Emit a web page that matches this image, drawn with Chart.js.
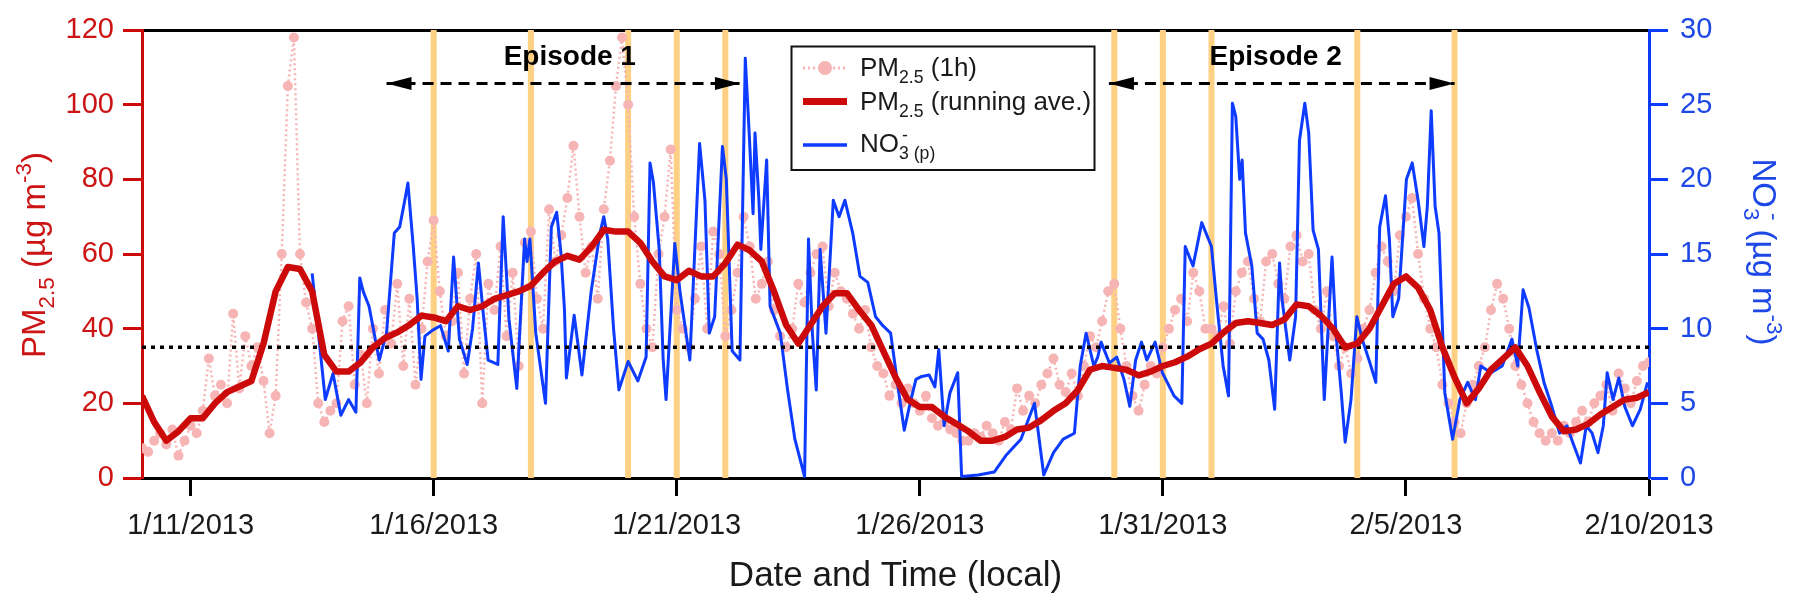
<!DOCTYPE html>
<html><head><meta charset="utf-8">
<script src="https://cdn.jsdelivr.net/npm/chart.js@4.4.1/dist/chart.umd.min.js"></script>
<style>html,body{margin:0;padding:0;background:#fff;}#wrap{width:1800px;height:597px;}</style>
</head><body><div id="wrap"><canvas id="c" width="1800" height="597"></canvas></div>
<script>
const FONT = '"Liberation Sans", Arial, Helvetica, sans-serif';

// ---- data (x = days since 1/10/2013 00:00) ----
const tickDays = [1, 6, 11, 16, 21, 26, 31];
const tickLabels = ['1/11/2013','1/16/2013','1/21/2013','1/26/2013','1/31/2013','2/5/2013','2/10/2013'];
const yellowDays = [6, 8, 10, 11, 12, 20, 21, 22, 25, 27];
const pmStandard = 35;

// PM2.5 (1h) read every 3 h
const pm1hStep = 0.125;
const pm1h = [
  8,7,10,12,9,13,6,10,
  14,12,18,32,22,25,20,44,
  24,38,30,35,26,12,22,60,
  105,118,60,47,40,20,15,18,
  20,42,46,25,33,20,40,28,
  45,36,52,30,48,25,40,58,
  69,50,38,42,55,28,48,60,
  20,52,45,62,38,55,30,63,
  66,48,40,72,58,65,75,89,
  70,55,62,48,72,85,105,118,
  100,70,52,40,35,60,70,88,
  45,40,35,48,62,40,66,60,
  38,45,55,70,62,48,52,58,
  45,38,35,40,52,47,55,60,
  62,46,55,50,48,44,40,45,
  35,30,28,22,25,20,24,20,
  18,22,16,14,15,13,12,10,
  10,12,11,14,12,10,15,13,
  24,18,22,20,25,28,32,25,
  23,28,22,30,38,35,42,50,
  52,40,30,22,18,25,30,28,
  35,40,45,48,42,55,50,40,
  40,38,46,36,50,55,58,48,
  42,58,60,52,48,62,65,58,
  60,45,40,50,38,30,35,28,
  32,40,45,55,62,58,50,65,
  70,75,60,48,40,35,25,20,
  15,12,20,25,30,35,45,52,
  48,40,30,25,20,15,12,10,
  12,10,14,12,15,18,15,20,
  22,25,18,28,24,20,26,30,
  31
];

// PM2.5 running average read every 6 h
const pmAvgStep = 0.25;
const pmAvg = [
  22,15,10,12.5, 16,16,20,23, 24.5,26,36,50, 56.5,56,50,33,
  28.5,28.5,31,35, 37.5,39,41,43.5, 43,42,46,45, 46,48,49,50,
  51.5,55,58,59.5, 58.5,62,66.5,66, 66,63,58,54, 53,55.5,54,54,
  57.5,62.5,61,58, 50,41,36,41, 46,49.5,49.5,45, 41,34,27,21,
  19,19,16.5,14.5, 12.5,10,10,11, 13,13.5,15.5,18, 20,23.5,29,30,
  29.5,29,27.5,28.5, 30,31,32.5,34.5, 36,39,41.5,42, 41.5,41,42.5,46.5,
  46,43.5,40,35, 36,40,46,52, 54,51,45,35, 27,20,24,29,
  32,35,30,23, 16.5,12.5,13,14.5, 17,19,21,21.5, 23
];

// NO3- (p) (right axis)
const no3Days = [
  3.50,3.62,3.77,3.93,4.09,4.25,4.40,4.48,4.55,4.67,4.88,5.03,5.19,5.30,5.40,5.47,5.58,5.66,5.74,5.82,
  5.98,6.14,6.30,6.41,6.53,6.69,6.80,6.92,7.02,7.12,7.32,7.43,7.55,7.71,7.87,7.92,7.98,8.10,8.30,8.42,
  8.53,8.62,8.69,8.73,8.89,9.05,9.24,9.42,9.50,9.58,9.70,9.81,10.00,10.20,10.37,10.45,10.52,10.64,10.72,10.78,
  10.96,11.07,11.27,11.47,11.58,11.67,11.78,11.94,12.02,12.14,12.30,12.41,12.49,12.57,12.61,12.69,12.73,12.85,12.92,13.13,
  13.28,13.43,13.63,13.71,13.79,13.87,13.95,14.07,14.22,14.34,14.46,14.62,14.77,14.93,15.09,15.24,15.40,15.56,15.68,15.80,
  15.92,16.04,16.19,16.31,16.39,16.50,16.62,16.78,16.86,17.20,17.53,17.77,18.08,18.36,18.55,18.75,18.95,19.18,19.30,19.42,
  19.58,19.66,19.73,19.90,20.05,20.20,20.32,20.44,20.56,20.67,20.84,20.99,21.23,21.39,21.46,21.62,21.80,22.00,22.10,22.24,
  22.35,22.43,22.50,22.58,22.63,22.70,22.83,22.94,23.06,23.18,23.30,23.40,23.45,23.61,23.73,23.81,23.92,24.00,24.09,24.20,
  24.32,24.48,24.56,24.67,24.75,24.87,24.99,25.10,25.26,25.38,25.46,25.58,25.66,25.73,25.85,26.01,26.13,26.25,26.37,26.44,
  26.52,26.60,26.68,26.80,26.96,27.11,27.27,27.43,27.54,27.75,27.98,28.18,28.30,28.41,28.53,28.69,28.84,29.00,29.16,29.31,
  29.43,29.59,29.71,29.83,29.95,30.06,30.14,30.26,30.38,30.50,30.66,30.82,30.97
];
const no3Vals = [
  13.7,10,5.25,7,4.2,5.25,4.4,13.4,12.5,11.5,7.9,9.7,16.4,16.8,18.5,19.75,15.5,12,6.6,9.5,
  9.9,10.2,8.5,14.8,9.3,7.6,10,14.4,11,7.9,7.6,17.5,10.6,6,16,14.5,16,9.7,5,16.8,
  17.8,15,11.3,6.7,10.9,6.9,12.5,16.4,17.5,16,10,5.9,7.8,6.5,8.1,21.1,19.8,15.3,8,5.25,
  15.7,12.4,7.9,22.4,18.6,9.7,10.8,22.2,20,8.5,7.9,28.1,23.1,17.7,23.1,18.6,15.3,21.3,11.5,9.7,
  5.9,2.6,0.1,16,9.7,5.9,15.3,9.7,18.6,17.5,18.6,16.4,13.5,13.1,10.8,10.2,9.7,5.9,3.2,5,
  6.6,6.8,6.9,6.1,8.6,3.5,5.7,7.05,0.1,0.2,0.4,1.5,2.6,5,0.2,1.7,2.6,3,7.5,9.7,
  7.5,8.1,9.1,7.7,8.1,6.6,4.8,7.9,9.1,7.9,9.1,7.05,5.5,5,15.5,14.2,17.1,15.5,12,7.5,
  5.5,25.1,24.2,20,21.3,16.4,14.2,9.7,9.3,7.9,4.6,14.4,12,7.9,10.8,22.6,25.1,23.1,16.6,15.3,
  5.25,14.8,9.7,5.7,2.4,5.25,10.8,9.3,7.7,6.4,16.8,18.9,16,10.8,12,20,21.1,18.6,15.5,18.2,
  24.6,18.2,16.4,5.7,2.6,5.25,6.4,5.25,7.5,7.05,7.5,9.3,7.5,12.6,11.4,8.6,6.4,4.8,3,3.5,
  2.4,1,3.5,3,1.7,3.5,7.05,5.25,6.7,4.8,3.5,4.6,6.4
];

// Episode annotations (data units)
const episodeNames = ['Episode 1', 'Episode 2'];
const episodeFrom = [5.03, 19.89];
const episodeTo = [12.3, 27.0];
const episodeArrowY = 105.7;
const episodeTextX = [8.8, 23.32];
const episodeTextY = 110.6;

// ---- styles ----
const RED = '#CC0A0A', RED_TXT = '#CC1414', BLUE = '#0D3BFF', BLUE_TXT = '#1E48E6';
const PINK = '#F6B4B4', YELLOW = '#FDD083', INK = '#1a1a1a';

const yellowData = [];
yellowDays.forEach(d => { yellowData.push({x:d,y:0},{x:d,y:120},{x:d,y:null}); });
const episodeData = [];
episodeFrom.forEach((f,i) => { episodeData.push({x:f,y:episodeArrowY},{x:episodeTo[i],y:episodeArrowY},{x:episodeTo[i],y:null}); });

function drawRich(ctx, parts, x, y, size, align, color) {
  ctx.save();
  ctx.fillStyle = color; ctx.textAlign = 'left'; ctx.textBaseline = 'alphabetic';
  const items = parts.map(p => {
    const s = (p.sub || p.sup) ? size * 0.68 : size;
    ctx.font = (p.bold ? 'bold ' : '') + s + 'px ' + FONT;
    return {p, s, w: ctx.measureText(p.t).width};
  });
  let total = 0; items.forEach(it => { if (!it.p.noAdv) total += it.w; });
  let cx = align === 'center' ? x - total / 2 : x;
  items.forEach(it => {
    ctx.font = (it.p.bold ? 'bold ' : '') + it.s + 'px ' + FONT;
    const dy = it.p.sub ? size * 0.28 : it.p.sup ? -size * 0.42 : 0;
    ctx.fillText(it.p.t, cx + (it.p.dx || 0), y + dy);
    if (!it.p.noAdv) cx += it.w;
  });
  ctx.restore();
}

const annot = {
  id: 'annot',
  afterDatasetsDraw(chart) {
    const ctx = chart.ctx, xs = chart.scales.x, ys = chart.scales.y;
    ctx.save();
    ctx.fillStyle = '#000';
    const py = ys.getPixelForValue(episodeArrowY);
    episodeFrom.forEach((f, i) => {
      const a = xs.getPixelForValue(f), b = xs.getPixelForValue(episodeTo[i]);
      ctx.beginPath(); ctx.moveTo(a, py); ctx.lineTo(a + 25, py - 6.5); ctx.lineTo(a + 25, py + 6.5); ctx.closePath(); ctx.fill();
      ctx.beginPath(); ctx.moveTo(b, py); ctx.lineTo(b - 25, py - 6.5); ctx.lineTo(b - 25, py + 6.5); ctx.closePath(); ctx.fill();
      ctx.font = 'bold 28px ' + FONT; ctx.textAlign = 'center'; ctx.textBaseline = 'alphabetic';
      ctx.fillText(episodeNames[i], xs.getPixelForValue(episodeTextX[i]), ys.getPixelForValue(episodeTextY));
    });
    ctx.restore();
    // legend
    ctx.save();
    ctx.fillStyle = '#fff'; ctx.fillRect(791.5, 46.5, 303, 123.5);
    ctx.lineWidth = 2; ctx.strokeStyle = '#111'; ctx.strokeRect(791.5, 46.5, 303, 123.5);
    ctx.strokeStyle = PINK; ctx.lineWidth = 3; ctx.setLineDash([2, 3]);
    ctx.beginPath(); ctx.moveTo(803, 68); ctx.lineTo(847, 68); ctx.stroke();
    ctx.setLineDash([]);
    ctx.fillStyle = PINK; ctx.beginPath(); ctx.arc(825, 68, 7, 0, Math.PI * 2); ctx.fill();
    ctx.strokeStyle = RED; ctx.lineWidth = 7; ctx.beginPath(); ctx.moveTo(803, 101.5); ctx.lineTo(847, 101.5); ctx.stroke();
    ctx.strokeStyle = BLUE; ctx.lineWidth = 3.5; ctx.beginPath(); ctx.moveTo(803, 145); ctx.lineTo(847, 145); ctx.stroke();
    ctx.restore();
    drawRich(ctx, [{t:'PM'},{t:'2.5',sub:true},{t:' (1h)'}], 860, 76, 26, 'left', INK);
    drawRich(ctx, [{t:'PM'},{t:'2.5',sub:true},{t:' (running ave.)'}], 860, 110, 26, 'left', INK);
    drawRich(ctx, [{t:'NO'},{t:'-',sup:true,noAdv:true,dx:3},{t:'3 (p)',sub:true}], 860, 152, 26, 'left', INK);
  },
  afterDraw(chart) {
    const ctx = chart.ctx;
    ctx.save(); ctx.translate(45, 255); ctx.rotate(-Math.PI / 2);
    drawRich(ctx, [{t:'PM'},{t:'2.5',sub:true},{t:' (\u00B5g m'},{t:'-3',sup:true},{t:')'}], 0, 0, 33, 'center', RED_TXT);
    ctx.restore();
    ctx.save(); ctx.translate(1753, 252); ctx.rotate(Math.PI / 2);
    drawRich(ctx, [{t:'NO'},{t:'-',sup:true,noAdv:true,dx:5},{t:'3',sub:true},{t:' (\u00B5g m'},{t:'-3',sup:true},{t:')'}], 0, 0, 33, 'center', BLUE_TXT);
    ctx.restore();
  }
};

new Chart(document.getElementById('c'), {
  type: 'line',
  data: {
    datasets: [
      { label: 'yellow', data: yellowData, borderColor: YELLOW, borderWidth: 6, pointRadius: 0, spanGaps: false, yAxisID: 'y', order: 10 },
      { label: 'PM2.5 (1h)', data: pm1h.map((v, i) => ({x: i * pm1hStep, y: v})), borderColor: PINK, borderWidth: 2.5, borderDash: [2, 3],
        pointRadius: 5, pointBackgroundColor: PINK, pointBorderWidth: 0, yAxisID: 'y', order: 8 },
      { label: 'NO3- (p)', data: no3Days.map((d, i) => ({x: d, y: no3Vals[i]})), borderColor: BLUE, borderWidth: 3, pointRadius: 0, yAxisID: 'y2', order: 5 },
      { label: 'standard', data: [{x: 0, y: pmStandard}, {x: 31, y: pmStandard}], borderColor: '#000', borderWidth: 3.5, borderDash: [4, 5], pointRadius: 0, yAxisID: 'y', order: 4 },
      { label: 'episodes', data: episodeData, borderColor: '#000', borderWidth: 3, borderDash: [11, 7], pointRadius: 0, spanGaps: false, yAxisID: 'y', order: 3 },
      { label: 'PM2.5 (running ave.)', data: pmAvg.map((v, i) => ({x: i * pmAvgStep, y: v})), borderColor: RED, borderWidth: 6.5, pointRadius: 0, yAxisID: 'y', order: 1 }
    ]
  },
  options: {
    responsive: false, devicePixelRatio: 1, animation: false,
    layout: { padding: { top: 30, left: 0, right: 0, bottom: 0 } },
    plugins: { legend: { display: false }, tooltip: { enabled: false } },
    elements: { line: { tension: 0, borderCapStyle: 'butt', borderJoinStyle: 'round' } },
    scales: {
      x: {
        type: 'linear', position: 'bottom', min: 0, max: 31,
        afterBuildTicks: s => { s.ticks = tickDays.map(v => ({value: v})); },
        afterFit: s => { s.height = 119; },
        ticks: { callback: v => { const k = tickDays.indexOf(v); return k >= 0 ? tickLabels[k] : ''; },
                 font: { size: 29, family: FONT }, color: INK, padding: 13, maxRotation: 0, autoSkip: false },
        grid: { display: true, drawOnChartArea: false, drawTicks: true, tickLength: 18, tickWidth: 3, tickColor: '#000' },
        border: { display: true, color: '#000', width: 3 },
        title: { display: true, text: 'Date and Time (local)', font: { size: 35, family: FONT }, color: INK, padding: { top: 0, bottom: 0 } }
      },
      xTop: {
        type: 'linear', position: 'top', min: 0, max: 31,
        afterFit: s => { s.height = 0; },
        ticks: { display: false }, grid: { display: false },
        border: { display: true, color: '#000', width: 3 }
      },
      y: {
        type: 'linear', position: 'left', min: 0, max: 120,
        afterFit: s => { s.width = 142; },
        ticks: { stepSize: 20, font: { size: 29, family: FONT }, color: RED_TXT, padding: 9 },
        grid: { display: true, drawOnChartArea: false, drawTicks: true, tickLength: 19, tickWidth: 3, tickColor: RED },
        border: { display: true, color: RED, width: 3 }
      },
      y2: {
        type: 'linear', position: 'right', min: 0, max: 30,
        afterFit: s => { s.width = 151; },
        ticks: { stepSize: 5, font: { size: 29, family: FONT }, color: BLUE_TXT, padding: 12 },
        grid: { display: true, drawOnChartArea: false, drawTicks: true, tickLength: 19, tickWidth: 3, tickColor: BLUE },
        border: { display: true, color: BLUE, width: 3 }
      }
    }
  },
  plugins: [annot]
});
</script></body></html>
